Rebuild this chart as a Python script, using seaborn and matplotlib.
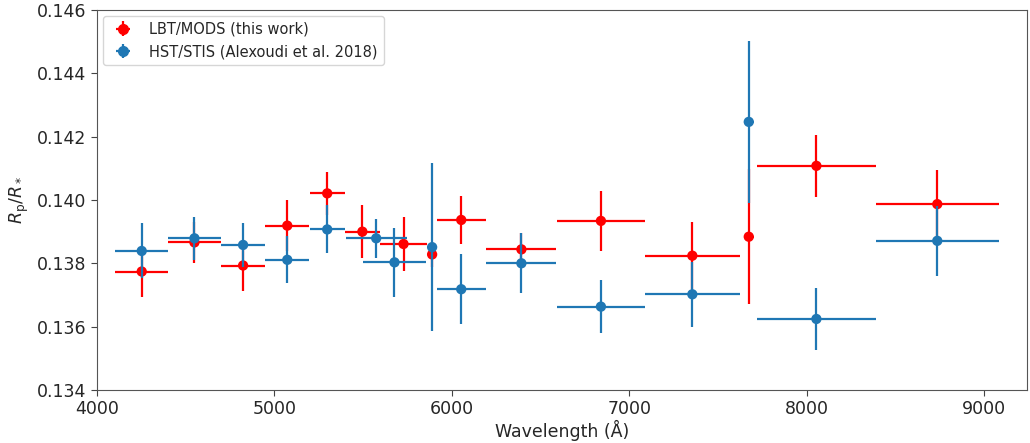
import numpy as np
import pandas as pd
import matplotlib
matplotlib.use("Agg")
import matplotlib.pyplot as plt
import seaborn as sns

# LBT/MODS (this work)
lbt_wave = [4253, 4550, 4824, 5073, 5298, 5496, 5728, 5889, 6053, 6392, 6840, 7355, 7673, 8054, 8735]
lbt_werr = [148, 148, 122, 123, 98, 98, 130, 8, 139, 197, 247, 268, 28, 334, 348]
lbt_rp = [0.13774, 0.13866, 0.13793, 0.13919, 0.14021, 0.13900, 0.13861, 0.13828,
          0.13937, 0.13844, 0.13934, 0.13824, 0.13884, 0.14108, 0.13987]
lbt_rperr = [0.00079, 0.00064, 0.00082, 0.00080, 0.00069, 0.00084, 0.00085, 0.00040,
             0.00077, 0.00052, 0.00096, 0.00105, 0.00213, 0.00097, 0.00107]

# HST/STIS (Alexoudi et al. 2018)
hst_wave = [4253, 4550, 4824, 5073, 5298, 5574, 5677, 5889, 6053, 6392, 6840, 7355, 7673, 8054, 8735]
hst_werr = [148, 148, 122, 123, 98, 171, 180, 8, 139, 197, 247, 268, 28, 334, 348]
hst_rp = [0.13839, 0.13879, 0.13858, 0.13811, 0.13907, 0.13879, 0.13803, 0.13851,
          0.13718, 0.13800, 0.13663, 0.13702, 0.14247, 0.13624, 0.13871]
hst_rperr = [0.00087, 0.00068, 0.00070, 0.00074, 0.00076, 0.00061, 0.00108, 0.00266,
             0.00110, 0.00095, 0.00084, 0.00102, 0.00255, 0.00098, 0.00111]

series_labels = ["LBT/MODS (this work)", "HST/STIS (Alexoudi et al. 2018)"]
x_ticks = [4000, 5000, 6000, 7000, 8000, 9000]
y_ticks = [0.134, 0.136, 0.138, 0.140, 0.142, 0.144, 0.146]

sns.set_theme(style="ticks")
plt.rcParams['font.family'] = ['DejaVu Sans']

fig = plt.figure(figsize=(10.30, 4.43), dpi=100)
ax = fig.add_axes([0.094, 0.120, 0.903, 0.857])

df_lbt = pd.DataFrame({"wave": lbt_wave, "werr": lbt_werr, "rp": lbt_rp, "rperr": lbt_rperr})
df_hst = pd.DataFrame({"wave": hst_wave, "werr": hst_werr, "rp": hst_rp, "rperr": hst_rperr})

handles = []
z = 2.0
for df, color in [(df_lbt, "red"), (df_hst, "#1f77b4")]:
    ax.errorbar(df["wave"], df["rp"], xerr=df["werr"], yerr=df["rperr"], fmt="none",
                ecolor=color, elinewidth=1.6, capsize=0, zorder=z)
    sns.scatterplot(data=df, x="wave", y="rp", color=color, s=55, edgecolor="none",
                    ax=ax, legend=False, zorder=z + 0.1)
    z += 0.2
    h = ax.errorbar([], [], xerr=[], yerr=[], fmt="o", color=color, ms=7, elinewidth=1.6)
    handles.append(h)

ax.legend(handles, series_labels, loc="upper left", fontsize=10.5, frameon=True,
          borderaxespad=0.4, handlelength=2.0)

ax.set_xlim(4000, 9240)
ax.set_ylim(0.134, 0.146)
ax.set_xticks(x_ticks)
ax.set_yticks(y_ticks)
ax.set_yticklabels([f"{v:.3f}" for v in y_ticks])
ax.tick_params(labelsize=12.5, length=4, width=0.8, color="#444444")
for s in ax.spines.values():
    s.set_linewidth(0.8)
    s.set_color("#555555")
ax.set_xlabel("Wavelength (Å)", fontsize=12.5, labelpad=1)
ax.set_ylabel(r"$R_{\rm p}/R_*$", fontsize=12.5, labelpad=4)

fig.savefig("out.png", dpi=100)
